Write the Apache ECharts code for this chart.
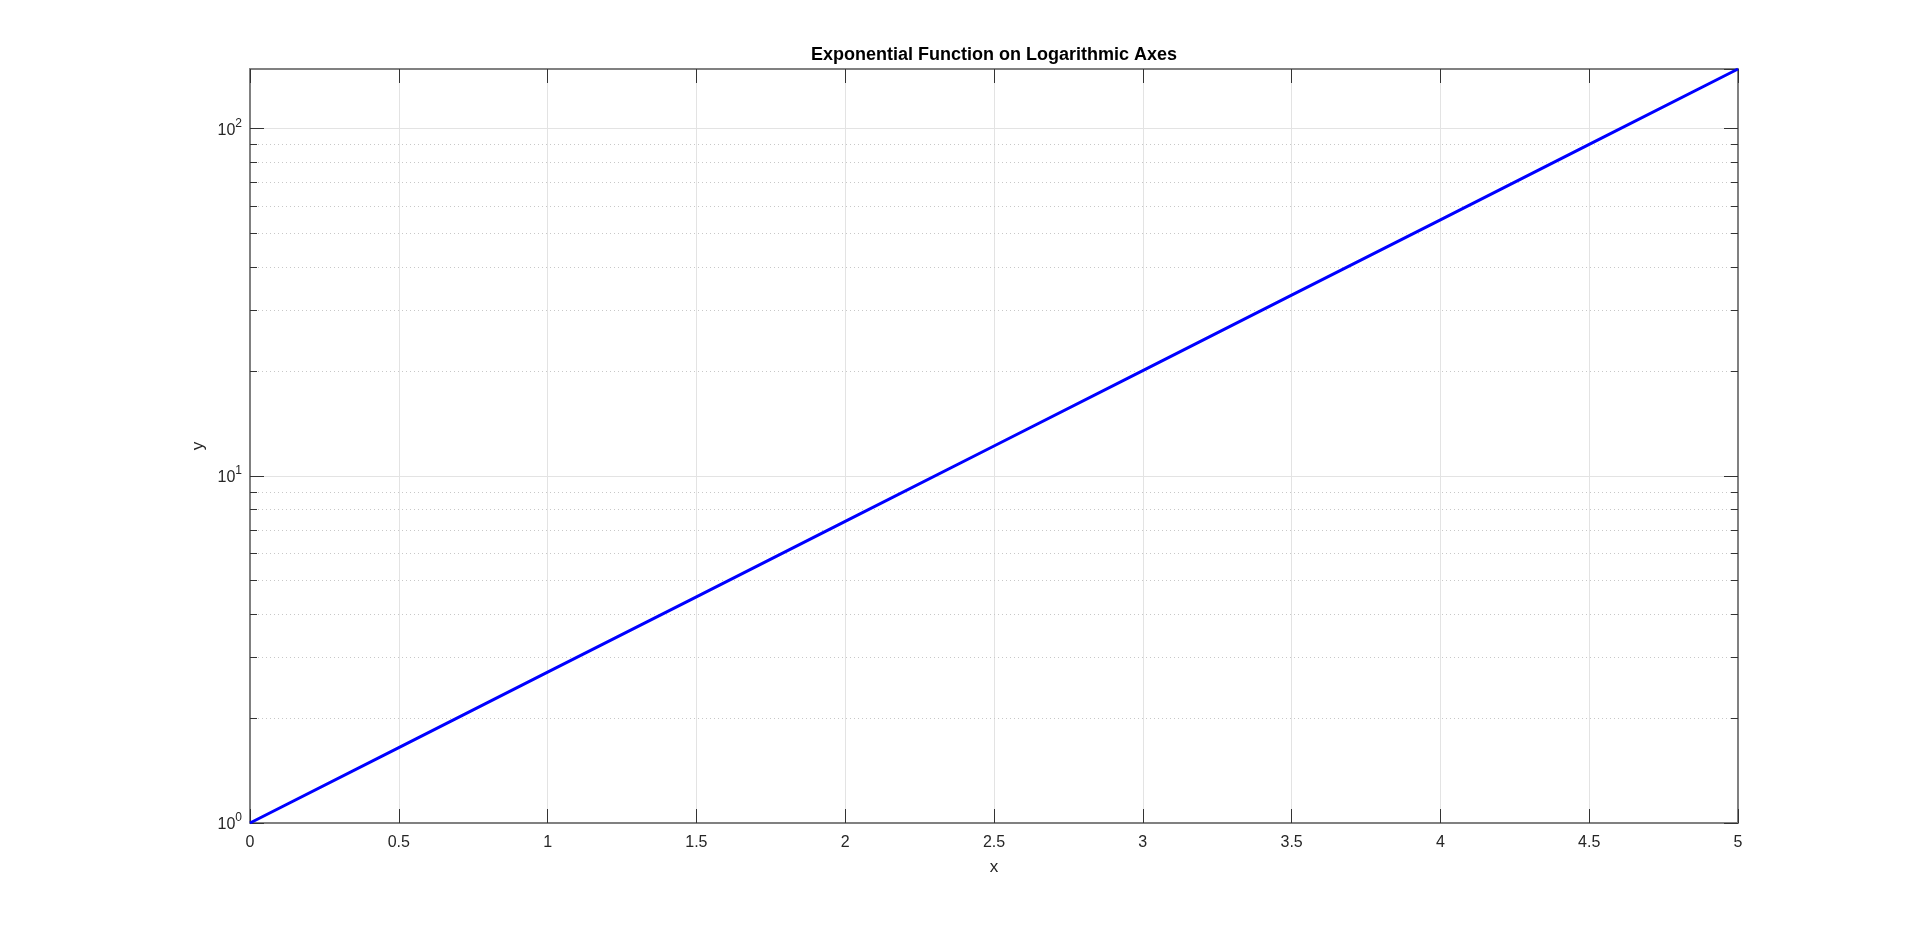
<!DOCTYPE html>
<html>
<head>
<meta charset="utf-8">
<script src="https://cdn.jsdelivr.net/npm/echarts@6/dist/echarts.min.js"></script>
<style>
html,body{margin:0;padding:0;background:#fff;}
#chart{width:1920px;height:926px;}
</style>
</head>
<body>
<div id="chart"></div>
<script>
// Data (y = e^x on log y axis)
var xValues = [0, 0.5, 1, 1.5, 2, 2.5, 3, 3.5, 4, 4.5, 5];
var yValues = [1, 1.6487, 2.7183, 4.4817, 7.3891, 12.1825, 20.0855, 33.1155, 54.5982, 90.0171, 148.4132];
var minorYValues = [2, 3, 4, 5, 6, 7, 8, 9, 20, 30, 40, 50, 60, 70, 80, 90];
var titleText = 'Exponential Function on Logarithmic Axes';
var xName = 'x';
var yName = 'y';
var xMin = 0, xMax = 5, xInterval = 0.5;
var yMin = 1, yMax = 148.4132;

var FONT = '"Liberation Sans", Arial, Helvetica, sans-serif';
var TXT = '#262626';
var AXIS = '#808080';

var lineData = xValues.map(function (x, i) { return [x, yValues[i]]; });
var minorData = minorYValues.map(function (v) { return [xMin, v]; });

var chart = echarts.init(document.getElementById('chart'));
chart.setOption({
  animation: false,
  backgroundColor: '#fff',
  title: {
    text: titleText,
    left: 994, top: 46, textAlign: 'center', padding: 0,
    textStyle: { fontFamily: FONT, fontSize: 18, fontWeight: 'bold', color: '#000' }
  },
  grid: { left: 250, right: 182, top: 69, bottom: 103, containLabel: false },
  xAxis: [{
    type: 'value', min: xMin, max: xMax, interval: xInterval,
    name: xName, nameLocation: 'middle', nameGap: 36,
    nameTextStyle: { fontFamily: FONT, fontSize: 17, color: TXT },
    axisLine: { show: true, onZero: false, lineStyle: { color: AXIS, width: 2 } },
    axisTick: { show: true, inside: true, length: 14, lineStyle: { color: '#333', width: 1 } },
    axisLabel: { margin: 12, fontFamily: FONT, fontSize: 16, color: TXT },
    splitLine: { show: true, lineStyle: { color: '#e3e3e3', width: 1 } }
  }, {
    type: 'value', min: xMin, max: xMax, interval: xInterval, position: 'top',
    axisLine: { show: true, onZero: false, lineStyle: { color: AXIS, width: 2 } },
    axisTick: { show: true, inside: true, length: 14, lineStyle: { color: '#333', width: 1 } },
    axisLabel: { show: false },
    splitLine: { show: false }
  }],
  yAxis: [{
    type: 'log', logBase: 10, min: yMin, max: yMax,
    name: yName, nameLocation: 'middle', nameGap: 38, nameRotate: 90,
    nameTextStyle: { fontFamily: FONT, fontSize: 17, color: TXT },
    axisLine: { show: true, onZero: false, lineStyle: { color: AXIS, width: 2 } },
    axisTick: { show: true, inside: true, length: 14, lineStyle: { color: '#333', width: 1 } },
    axisLabel: {
      margin: 8, showMaxLabel: false,
      formatter: function (v) {
        var e = Math.round(Math.log10(v));
        if (Math.abs(Math.pow(10, e) - v) > 1e-6 * v) return '';
        return '{b|10}{s|' + e + '}';
      },
      rich: {
        b: { fontFamily: FONT, fontSize: 16, color: TXT, padding: [4, 0, 0, 0] },
        s: { fontFamily: FONT, fontSize: 12, color: TXT, padding: [0, 0, 10, 0] }
      }
    },
    splitLine: { show: true, lineStyle: { color: '#e3e3e3', width: 1 } }
  }, {
    type: 'log', logBase: 10, min: yMin, max: yMax, position: 'right',
    axisLine: { show: true, onZero: false, lineStyle: { color: AXIS, width: 2 } },
    axisTick: { show: true, inside: true, length: 14, lineStyle: { color: '#333', width: 1 } },
    axisLabel: { show: false },
    splitLine: { show: false }
  }],
  series: [{
    type: 'custom',
    xAxisIndex: 0, yAxisIndex: 0,
    silent: true, z: 1,
    data: minorData,
    renderItem: function (params, api) {
      var cs = params.coordSys;
      var p = api.coord([api.value(0), api.value(1)]);
      var y = Math.round(p[1]) + 0.5;
      return {
        type: 'group',
        children: [{
          type: 'line',
          shape: { x1: cs.x, y1: y, x2: cs.x + cs.width, y2: y },
          style: { stroke: '#c8c8c8', lineWidth: 1, lineDash: [1, 3] }
        }, {
          type: 'line',
          shape: { x1: cs.x, y1: y, x2: cs.x + 7, y2: y },
          style: { stroke: '#333', lineWidth: 1 }
        }, {
          type: 'line',
          shape: { x1: cs.x + cs.width - 7, y1: y, x2: cs.x + cs.width, y2: y },
          style: { stroke: '#333', lineWidth: 1 }
        }]
      };
    }
  }, {
    type: 'line',
    xAxisIndex: 0, yAxisIndex: 0,
    data: lineData,
    showSymbol: false, symbol: 'none',
    z: 5,
    lineStyle: { color: '#0000ff', width: 3 }
  }]
});
</script>
</body>
</html>
